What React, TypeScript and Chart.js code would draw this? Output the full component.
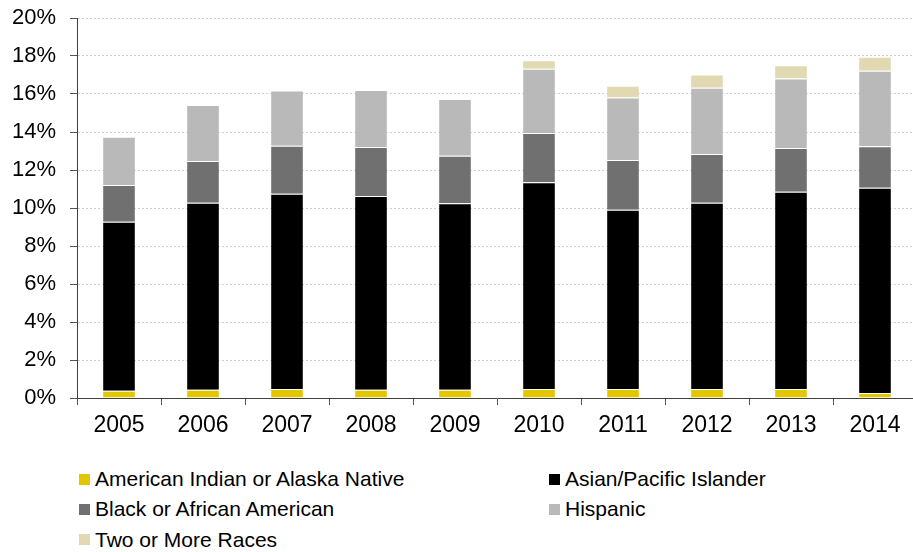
import React, { useEffect, useRef } from "react";
import { Chart, registerables } from "chart.js";

Chart.register(...registerables);

const years = ["2005", "2006", "2007", "2008", "2009", "2010", "2011", "2012", "2013", "2014"];
const americanIndian = [0.38, 0.44, 0.47, 0.44, 0.44, 0.47, 0.47, 0.47, 0.47, 0.26];
const asianPacific = [8.9, 9.84, 10.28, 10.19, 9.81, 10.88, 9.44, 9.81, 10.39, 10.81];
const blackAfrican = [1.93, 2.19, 2.53, 2.58, 2.5, 2.6, 2.62, 2.56, 2.3, 2.18];
const hispanic = [2.54, 2.95, 2.91, 3.0, 2.99, 3.38, 3.28, 3.49, 3.65, 3.98];
const twoOrMore = [null, null, null, null, null, 0.44, 0.63, 0.69, 0.7, 0.73];
const yTicks = [0, 2, 4, 6, 8, 10, 12, 14, 16, 18, 20];

const seriesNames = [
  "American Indian or Alaska Native",
  "Asian/Pacific Islander",
  "Black or African American",
  "Hispanic",
  "Two or More Races",
];
const seriesColors = ["#E2C600", "#000000", "#707070", "#B9B9B9", "#E1D9B1"];

const FONT = "'Liberation Sans', Arial, Helvetica, sans-serif";

export default function App() {
  const canvasRef = useRef<HTMLCanvasElement | null>(null);

  useEffect(() => {
    const canvas = canvasRef.current;
    if (!canvas) return;
    const seriesData = [americanIndian, asianPacific, blackAfrican, hispanic, twoOrMore];
    const chart = new Chart(canvas, {
      type: "bar",
      data: {
        labels: years,
        datasets: seriesData.map((d, i) => ({
          label: seriesNames[i],
          data: d as (number | null)[],
          backgroundColor: seriesColors[i],
          borderColor: "rgba(255,255,255,0.45)",
          borderWidth: 1,
          stack: "s",
          categoryPercentage: 1,
          barPercentage: 0.4,
        })),
      },
      options: {
        responsive: false,
        animation: false,
        devicePixelRatio: 1,
        layout: { padding: { top: 18, left: 0, right: 0, bottom: 0 } },
        plugins: { legend: { display: false }, tooltip: { enabled: false } },
        scales: {
          x: {
            stacked: true,
            offset: true,
            grid: {
              display: true,
              drawOnChartArea: false,
              drawTicks: true,
              tickLength: 7,
              tickColor: "#555555",
              offset: true,
            },
            border: { display: true, color: "#404040", width: 1 },
            ticks: {
              color: "#000000",
              font: { family: FONT, size: 23 },
              padding: 7,
              maxRotation: 0,
              autoSkip: false,
            },
            afterFit: (scale: any) => {
              scale.height = 52;
              scale.paddingLeft = 0;
              scale.paddingRight = 0;
            },
          },
          y: {
            stacked: true,
            min: 0,
            max: 20,
            afterBuildTicks: (scale: any) => {
              scale.ticks = yTicks.map((v) => ({ value: v }));
            },
            grid: {
              color: "#CFCFCF",
              lineWidth: 1,
              drawTicks: true,
              tickLength: 7,
              tickColor: "#555555",
            },
            border: { display: true, color: "#404040", width: 1, dash: [2, 2] },
            ticks: {
              color: "#000000",
              font: { family: FONT, size: 22 },
              padding: 14,
              callback: (v: any) => v + "%",
            },
            afterFit: (scale: any) => {
              scale.width = 77;
              scale.paddingTop = 0;
              scale.paddingBottom = 0;
            },
          },
        },
      },
    });
    return () => chart.destroy();
  }, []);

  const legendRows: { idx: number; col: number; row: number }[] = [
    { idx: 0, col: 0, row: 0 },
    { idx: 1, col: 1, row: 0 },
    { idx: 2, col: 0, row: 1 },
    { idx: 3, col: 1, row: 1 },
    { idx: 4, col: 0, row: 2 },
  ];
  const colX = [79, 549];
  const rowY = [479, 509, 539.5];

  return (
    <div
      style={{
        position: "fixed",
        left: 0,
        top: 0,
        width: 913,
        height: 552,
        overflow: "hidden",
        background: "#ffffff",
      }}
    >
      <canvas
        ref={canvasRef}
        width={917}
        height={450}
        style={{ position: "absolute", left: 0, top: 0, width: 917, height: 450, display: "block" }}
      />
      {legendRows.map((r) => (
        <div
          key={r.idx}
          style={{
            position: "absolute",
            left: colX[r.col],
            top: rowY[r.row] - 13,
            height: 26,
            display: "flex",
            alignItems: "center",
            fontFamily: FONT,
            fontSize: 21,
            color: "#000000",
            whiteSpace: "nowrap",
          }}
        >
          <span
            style={{
              display: "inline-block",
              width: 11,
              height: 11,
              background: seriesColors[r.idx],
              marginRight: 5,
            }}
          />
          <span>{seriesNames[r.idx]}</span>
        </div>
      ))}
    </div>
  );
}
